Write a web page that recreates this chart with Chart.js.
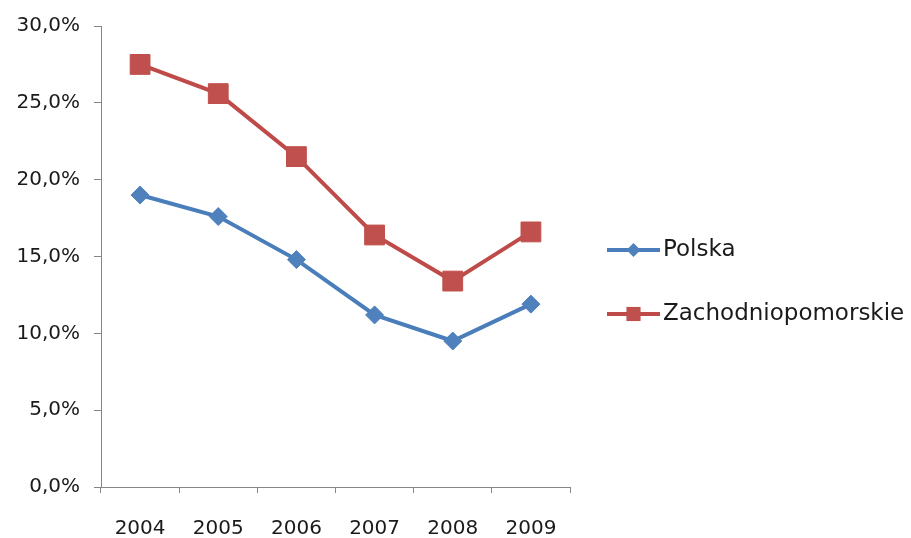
<!DOCTYPE html>
<html>
<head>
<meta charset="utf-8">
<script src="https://cdn.jsdelivr.net/npm/chart.js@4.4.1/dist/chart.umd.min.js"></script>
<style>
  html, body { margin: 0; padding: 0; background: #fff; }
  #wrap { width: 911px; height: 538px; }
</style>
</head>
<body>
<div id="wrap"><canvas id="c" width="911" height="538"></canvas></div>
<script>
// Stopa bezrobocia rejestrowanego, 2004–2009
const years = ['2004', '2005', '2006', '2007', '2008', '2009'];
const polska = [19.0, 17.6, 14.8, 11.2, 9.5, 11.9];
const zachodniopomorskie = [27.5, 25.6, 21.5, 16.4, 13.4, 16.6];
const seriesNames = ['Polska', 'Zachodniopomorskie'];

const FONT = '"DejaVu Sans", sans-serif';
const AXIS = '#868686';
const TEXT = '#1a1a1a';

const fmt = v => v.toFixed(1).replace('.', ',') + '%';

// Legend on the right: a short line with the series marker through it
const sideLegend = {
  id: 'sideLegend',
  afterDraw(chart) {
    const ctx = chart.ctx;
    const area = chart.chartArea;
    const x0 = area.right + 37;
    const x1 = x0 + 53;
    const ys = [area.top + 224, area.top + 288];
    ctx.save();
    chart.data.datasets.forEach((ds, i) => {
      const y = ys[i];
      ctx.strokeStyle = ds.borderColor;
      ctx.lineWidth = 4;
      ctx.beginPath();
      ctx.moveTo(x0, y);
      ctx.lineTo(x1, y);
      ctx.stroke();
      ctx.fillStyle = ds.pointBackgroundColor;
      ctx.strokeStyle = ds.pointBackgroundColor;
      ctx.lineWidth = 1;
      Chart.helpers.drawPoint(ctx, {
        pointStyle: ds.pointStyle,
        radius: ds.pointStyle === 'rect' ? 10 : 7,
        rotation: 0
      }, (x0 + x1) / 2, y);
      ctx.fillStyle = TEXT;
      ctx.font = '23px ' + FONT;
      ctx.textAlign = 'left';
      ctx.textBaseline = 'middle';
      ctx.fillText(ds.label, x1 + 3, y);
    });
    ctx.restore();
  }
};

new Chart(document.getElementById('c'), {
  type: 'line',
  data: {
    labels: years,
    datasets: [
      {
        label: seriesNames[0],
        data: polska,
        borderColor: '#4A7EBB',
        borderWidth: 4,
        pointStyle: 'rectRot',
        pointRadius: 9,
        pointBackgroundColor: '#4F81BD',
        pointBorderColor: '#4F81BD',
        pointBorderWidth: 1,
        tension: 0
      },
      {
        label: seriesNames[1],
        data: zachodniopomorskie,
        borderColor: '#BE4B48',
        borderWidth: 4,
        pointStyle: 'rect',
        pointRadius: 14,
        pointBackgroundColor: '#C0504D',
        pointBorderColor: '#C0504D',
        pointBorderWidth: 1,
        tension: 0
      }
    ]
  },
  options: {
    responsive: false,
    animation: false,
    layout: { padding: { top: 5, right: 341, left: 0, bottom: 0 } },
    plugins: { legend: { display: false }, tooltip: { enabled: false } },
    scales: {
      x: {
        offset: true,
        grid: {
          offset: true,
          drawOnChartArea: false,
          drawTicks: true,
          tickLength: 6,
          color: AXIS
        },
        border: { display: true, color: AXIS, width: 1 },
        ticks: {
          padding: 24,
          color: TEXT,
          font: { family: FONT, size: 20 }
        },
        afterFit(scale) { scale.height = 51; }
      },
      y: {
        min: 0,
        max: 30,
        grid: {
          drawOnChartArea: false,
          drawTicks: true,
          tickLength: 7,
          color: AXIS
        },
        border: { display: true, color: AXIS, width: 1 },
        ticks: {
          stepSize: 5,
          padding: 14,
          color: TEXT,
          font: { family: FONT, size: 20 },
          callback: v => fmt(v)
        },
        afterFit(scale) { scale.width = 101; }
      }
    }
  },
  plugins: [sideLegend]
});
</script>
</body>
</html>
